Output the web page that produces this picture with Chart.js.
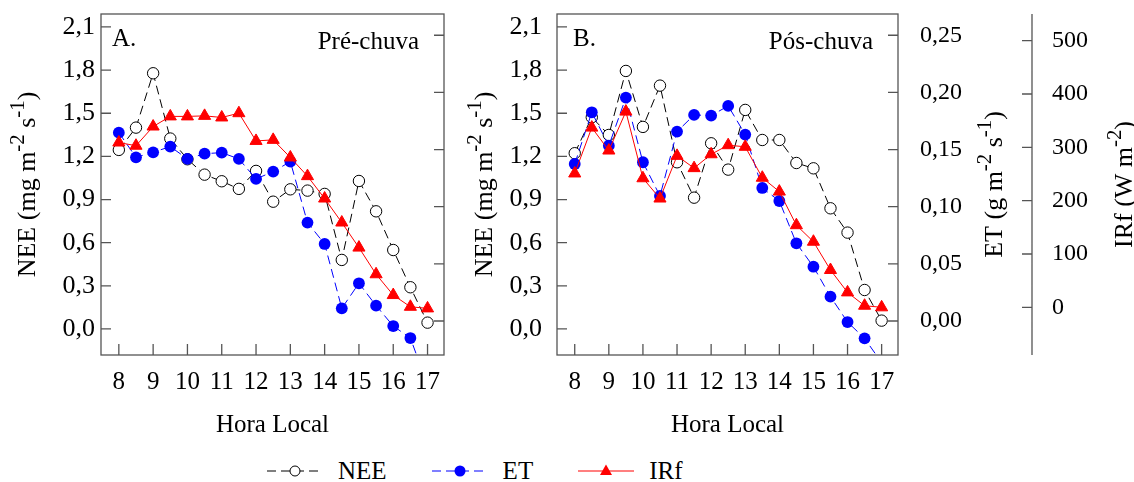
<!DOCTYPE html>
<html>
<head>
<meta charset="utf-8">
<script src="https://cdn.jsdelivr.net/npm/chart.js@4.4.1/dist/chart.umd.min.js"></script>
<style>
  body { margin: 0; background: #fff; }
  #wrap { position: relative; width: 1134px; height: 482px; overflow: hidden; font-family: "Liberation Serif", serif; }
  canvas { position: absolute; top: 0; }
  #legend { position: absolute; left: 267px; top: 457px; height: 28px; display: flex; align-items: center; }
  .item { display: flex; align-items: center; margin-right: 45px; }
  .item span { margin-left: 15px; font-size: 25px; line-height: 28px; }
</style>
</head>
<body>
<div id="wrap">
  <canvas id="pre" width="455" height="445" style="left:0"></canvas>
  <canvas id="pos" width="679" height="445" style="left:455px"></canvas>
  <div id="legend"></div>
</div>
<script>
// horas (eixo x) e marcas dos eixos
const hours = [8, 8.5, 9, 9.5, 10, 10.5, 11, 11.5, 12, 12.5, 13, 13.5, 14, 14.5, 15, 15.5, 16, 16.5, 17];
const hourTicks = [8, 9, 10, 11, 12, 13, 14, 15, 16, 17];
const neeTicks = [0, 0.3, 0.6, 0.9, 1.2, 1.5, 1.8, 2.1];
const neeTickLabels = ['0,0', '0,3', '0,6', '0,9', '1,2', '1,5', '1,8', '2,1'];
const etTicks = [0, 0.05, 0.1, 0.15, 0.2, 0.25];
const etTickLabels = ['0,00', '0,05', '0,10', '0,15', '0,20', '0,25'];
const irfTicks = [0, 100, 200, 300, 400, 500];
const irfTickLabels = ['0', '100', '200', '300', '400', '500'];

// A. Pré-chuva
const neePre = [1.245, 1.40, 1.778, 1.324, 1.18, 1.073, 1.027, 0.974, 1.099, 0.885, 0.971, 0.962, 0.939, 0.48, 1.029, 0.818, 0.549, 0.29, 0.044];
const etPre = [0.1648, 0.1432, 0.1476, 0.1526, 0.1418, 0.1464, 0.1473, 0.1418, 0.1243, 0.1307, 0.1394, 0.0861, 0.0674, 0.0111, 0.033, 0.0134, -0.0044, -0.0149, -0.056];
const irfPre = [309, 303, 339, 358, 358, 359, 356, 364, 312, 314, 281, 246, 204, 159, 112, 62, 23, 1, -2];

// B. Pós-chuva
const neePos = [1.222, 1.472, 1.349, 1.794, 1.405, 1.692, 1.159, 0.913, 1.291, 1.108, 1.523, 1.314, 1.314, 1.154, 1.117, 0.839, 0.67, 0.271, 0.058];
const etPos = [0.1374, 0.1826, 0.1534, 0.1955, 0.1389, 0.1094, 0.1657, 0.1803, 0.1797, 0.1882, 0.1631, 0.1164, 0.105, 0.068, 0.0475, 0.0213, -0.0009, -0.0152, -0.0365];
const irfPos = [251, 337, 294, 367, 242, 204, 284, 261, 287, 304, 301, 243, 217, 154, 123, 70, 28, 3, 0];

const FONT = '"Liberation Serif", serif';
const AXIS = '#555';

function pts(vals) {
  return hours.map((h, i) => ({ x: h, y: vals[i] }));
}

function setTicks(values) {
  return s => { s.ticks = values.map(v => ({ value: v })); };
}

function drawTitle(ctx, parts, bx, cy, size) {
  // texto vertical com expoentes
  ctx.save();
  ctx.translate(bx, cy);
  ctx.rotate(-Math.PI / 2);
  ctx.fillStyle = '#000';
  ctx.textAlign = 'left';
  ctx.textBaseline = 'alphabetic';
  const supSize = size * 0.8;
  let total = 0;
  parts.forEach(p => {
    const sup = p[0] === '^';
    ctx.font = (sup ? supSize : size) + 'px ' + FONT;
    total += ctx.measureText(sup ? p.slice(1) : p).width;
  });
  let x = -total / 2;
  parts.forEach(p => {
    const sup = p[0] === '^';
    const t = sup ? p.slice(1) : p;
    ctx.font = (sup ? supSize : size) + 'px ' + FONT;
    ctx.fillText(t, x, sup ? -size * 0.42 : 0);
    x += ctx.measureText(t).width;
  });
  ctx.restore();
}

const decor = {
  id: 'decor',
  beforeDatasetsDraw(chart, args, o) {
    const { ctx, chartArea: a, scales } = chart;
    ctx.save();
    ctx.strokeStyle = AXIS;
    ctx.lineWidth = 1.3;
    ctx.strokeRect(a.left, a.top, a.right - a.left, a.bottom - a.top);
    ctx.beginPath();
    scales.x.ticks.forEach(t => {
      const px = scales.x.getPixelForValue(t.value);
      ctx.moveTo(px, a.bottom); ctx.lineTo(px, a.bottom - 11);
    });
    scales.y.ticks.forEach(t => {
      const py = scales.y.getPixelForValue(t.value);
      ctx.moveTo(a.left, py); ctx.lineTo(a.left + 10, py);
    });
    scales.yET.ticks.forEach(t => {
      const py = scales.yET.getPixelForValue(t.value);
      ctx.moveTo(a.right, py); ctx.lineTo(a.right - 10, py);
    });
    if (o.irfAxis) {
      const s = scales.yIRf;
      ctx.moveTo(s.left, a.top); ctx.lineTo(s.left, a.bottom);
      s.ticks.forEach(t => {
        const py = s.getPixelForValue(t.value);
        ctx.moveTo(s.left, py); ctx.lineTo(s.left - 10, py);
      });
    }
    ctx.stroke();

    ctx.fillStyle = '#000';
    ctx.font = '25px ' + FONT;
    ctx.textBaseline = 'alphabetic';
    ctx.textAlign = 'left';
    ctx.fillText(o.tag, a.left + o.tagDx, a.top + 32);
    ctx.textAlign = 'right';
    ctx.fillText(o.season, a.right - 25, a.top + 35);

    const cy = (a.top + a.bottom) / 2;
    o.titles.forEach(tt => {
      drawTitle(ctx, tt.parts, scales[tt.scale].left + tt.dx, cy, 26);
    });
    ctx.restore();
  }
};

function makePanel(id, nee, et, irf, cfg) {
  return new Chart(document.getElementById(id), {
    type: 'line',
    data: {
      datasets: [
        {
          label: 'NEE', data: pts(nee), yAxisID: 'y', order: 3, clip: 0,
          borderColor: '#000', borderWidth: 1, borderDash: [9, 5],
          pointStyle: 'circle', pointRadius: 5.7, pointBackgroundColor: '#fff',
          pointBorderColor: '#000', pointBorderWidth: 1
        },
        {
          label: 'ET', data: pts(et), yAxisID: 'yET', order: 2, clip: 0,
          borderColor: '#0000ff', borderWidth: 1, borderDash: [9, 5],
          pointStyle: 'circle', pointRadius: 5.9, pointBackgroundColor: '#0000ff',
          pointBorderColor: '#0000ff', pointBorderWidth: 0
        },
        {
          label: 'IRf', data: pts(irf), yAxisID: 'yIRf', order: 1, clip: 0,
          borderColor: '#ff0000', borderWidth: 1,
          pointStyle: 'triangle', pointRadius: 7, pointBackgroundColor: '#ff0000',
          pointBorderColor: '#ff0000', pointBorderWidth: 1
        }
      ]
    },
    options: {
      responsive: false,
      animation: false,
      devicePixelRatio: 1,
      layout: { padding: { top: 14, left: 0, right: 0, bottom: 0 } },
      plugins: {
        legend: { display: false },
        tooltip: { enabled: false },
        decor: cfg.decor
      },
      scales: {
        x: {
          type: 'linear', min: 7.48, max: 17.48,
          afterBuildTicks: setTicks(hourTicks),
          afterFit: s => { s.height = 90; s.paddingLeft = 0; s.paddingRight = 0; },
          grid: { display: false, drawTicks: false },
          border: { display: false },
          ticks: {
            autoSkip: false, maxRotation: 0, padding: 12, color: '#000',
            font: { family: FONT, size: 25 },
            callback: (v, i) => String(hourTicks[i])
          },
          title: {
            display: true, text: 'Hora Local', color: '#000',
            font: { family: FONT, size: 25 }, padding: { top: 0, bottom: 5 }
          }
        },
        y: {
          position: 'left', min: -0.181, max: 2.19,
          afterBuildTicks: setTicks(neeTicks),
          afterFit: s => { s.width = cfg.leftW; s.paddingTop = 0; s.paddingBottom = 0; },
          grid: { display: false, drawTicks: false },
          border: { display: false },
          ticks: {
            padding: cfg.leftPad, color: '#000',
            font: { family: FONT, size: 26 },
            callback: (v, i) => neeTickLabels[i]
          }
        },
        yET: {
          position: 'right', min: -0.02975, max: 0.2686,
          afterBuildTicks: setTicks(etTicks),
          afterFit: s => { s.width = cfg.etW; s.paddingTop = 0; s.paddingBottom = 0; },
          grid: { display: false, drawTicks: false },
          border: { display: false },
          ticks: {
            display: cfg.showRight, padding: 22, color: '#000',
            font: { family: FONT, size: 24 },
            callback: (v, i) => etTickLabels[i]
          }
        },
        yIRf: {
          position: 'right', min: -89.4, max: 550, display: cfg.showRight,
          afterBuildTicks: setTicks(irfTicks),
          afterFit: s => { s.width = cfg.irfW; s.paddingTop = 0; s.paddingBottom = 0; },
          grid: { display: false, drawTicks: false },
          border: { display: false },
          ticks: {
            padding: 20, color: '#000',
            font: { family: FONT, size: 24 },
            callback: (v, i) => irfTickLabels[i]
          }
        }
      }
    },
    plugins: [decor]
  });
}

const neeTitle = ['NEE (mg m', '^-2', ' s', '^-1', ')'];
const etTitle = ['ET (g m', '^-2', ' s', '^-1', ')'];
const irfTitle = ['IRf (W m', '^-2', ')'];

makePanel('pre', neePre, etPre, irfPre, {
  leftW: 101, leftPad: 6, etW: 11, irfW: 0, showRight: false,
  decor: { tag: 'A.', tagDx: 11, season: 'Pré-chuva', irfAxis: false,
    titles: [{ scale: 'y', dx: 35, parts: neeTitle }] }
});

makePanel('pos', neePos, etPos, irfPos, {
  leftW: 102, leftPad: 15, etW: 134, irfW: 102, showRight: true,
  decor: { tag: 'B.', tagDx: 16, season: 'Pós-chuva', irfAxis: true,
    titles: [
      { scale: 'y', dx: 37, parts: neeTitle },
      { scale: 'yET', dx: 104, parts: etTitle },
      { scale: 'yIRf', dx: 100, parts: irfTitle }
    ] }
});

// legenda
const legendItems = [
  { label: 'NEE', color: '#000', dash: '9,5', marker: 'open' },
  { label: 'ET', color: '#0000ff', dash: '9,5', marker: 'dot' },
  { label: 'IRf', color: '#ff0000', dash: '', marker: 'tri' }
];
const legend = document.getElementById('legend');
legendItems.forEach(it => {
  let mk = '';
  if (it.marker === 'open') mk = '<circle cx="28" cy="10" r="5" fill="#fff" stroke="#000" stroke-width="1"/>';
  if (it.marker === 'dot') mk = '<circle cx="28" cy="10" r="5.5" fill="#0000ff"/>';
  if (it.marker === 'tri') mk = '<polygon points="28,3.5 34,14 22,14" fill="#ff0000"/>';
  const div = document.createElement('div');
  div.className = 'item';
  div.innerHTML = '<svg width="56" height="20"><line x1="0" y1="10" x2="56" y2="10" stroke="' + it.color +
    '" stroke-width="1.2"' + (it.dash ? ' stroke-dasharray="' + it.dash + '"' : '') + '/>' + mk + '</svg><span>' + it.label + '</span>';
  legend.appendChild(div);
});
</script>
</body>
</html>
